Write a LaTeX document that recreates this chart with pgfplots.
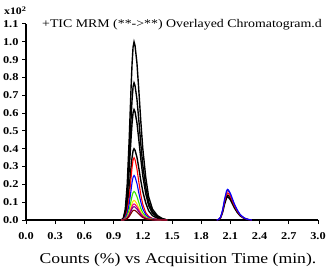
\documentclass[border=0pt]{standalone}
\usepackage{fontspec}
\setmainfont{Liberation Serif}[FakeStretch=1.18]
\usepackage{pgfplots}
\usepackage{pgfplotstable}
\pgfplotsset{compat=1.18}

\pgfplotstableread{
x     a     b      c      d      e      f      g      h      i      j       k
0.98  0     0      0      0      0      0      0      0      0      0       0
1.00  0.010 0.0077 0.0062 0.004  0.0035 0.0025 0.0016 0.0011 0.0009 0.00075 0.00055
1.02  0.060 0.0462 0.0372 0.024  0.0175 0.0125 0.008  0.0055 0.0045 0.00375 0.00275
1.04  0.200 0.154  0.124  0.080  0.0525 0.0375 0.024  0.0165 0.0135 0.01125 0.00825
1.06  0.450 0.3465 0.279  0.180  0.1225 0.0875 0.056  0.0385 0.0315 0.02625 0.01925
1.08  0.750 0.5775 0.465  0.300  0.238  0.170  0.1088 0.0748 0.0612 0.051   0.0374
1.09  0.880 0.6776 0.5456 0.352  0.2975 0.2125 0.136  0.0935 0.0765 0.06375 0.04675
1.10  0.970 0.7469 0.6014 0.388  0.336  0.240  0.1536 0.1056 0.0864 0.072   0.0528
1.11  1.000 0.770  0.620  0.400  0.350  0.250  0.160  0.110  0.090  0.075   0.055
1.12  0.980 0.7546 0.6076 0.392  0.3395 0.2425 0.1552 0.1067 0.0873 0.07275 0.05335
1.14  0.880 0.6776 0.5456 0.352  0.287  0.205  0.1312 0.0902 0.0738 0.0615  0.0451
1.16  0.720 0.5544 0.4464 0.288  0.210  0.150  0.096  0.066  0.054  0.045   0.033
1.18  0.550 0.4235 0.341  0.220  0.140  0.100  0.064  0.044  0.036  0.030   0.022
1.20  0.400 0.308  0.248  0.160  0.0875 0.0625 0.040  0.0275 0.0225 0.01875 0.01375
1.23  0.240 0.1848 0.1488 0.096  0.042  0.030  0.0192 0.0132 0.0108 0.009   0.0066
1.26  0.130 0.1001 0.0806 0.052  0.021  0.015  0.0096 0.0066 0.0054 0.0045  0.0033
1.30  0.060 0.0462 0.0372 0.024  0.0088 0.0063 0.004  0.0028 0.0023 0.0019  0.0014
1.35  0.025 0.0193 0.0155 0.010  0.0035 0.0025 0.0016 0.0011 0.0009 0.00075 0.00055
1.40  0.008 0.0062 0.005  0.0032 0.0014 0.001  0.0006 0.0004 0.0004 0.0003  0.0002
1.45  0     0      0      0      0      0      0      0      0      0       0
}\peakone

\pgfplotstableread{
x     a      b      c      d      e
1.96  0      0      0      0      0
1.98  0.0034 0.0033 0.003  0.0028 0.0026
2.00  0.0172 0.0165 0.0152 0.014  0.013
2.02  0.0568 0.0545 0.0502 0.0462 0.0429
2.04  0.117  0.1122 0.1034 0.0952 0.0884
2.06  0.1634 0.1568 0.1444 0.133  0.1235
2.07  0.172  0.165  0.152  0.140  0.130
2.08  0.1686 0.1617 0.149  0.1372 0.1274
2.10  0.1496 0.1436 0.1322 0.1218 0.1131
2.12  0.1204 0.1155 0.1064 0.098  0.091
2.14  0.0912 0.0875 0.0806 0.0742 0.0689
2.17  0.0568 0.0545 0.0502 0.0462 0.0429
2.20  0.031  0.0297 0.0274 0.0252 0.0234
2.24  0.012  0.0116 0.0106 0.0098 0.0091
2.28  0.0034 0.0033 0.003  0.0028 0.0026
2.32  0      0      0      0      0
}\peaktwo

\definecolor{brightgreen}{rgb}{0.2,0.9,0}
\definecolor{ylw}{rgb}{1,0.9,0}

\begin{document}
\begin{tikzpicture}
\begin{axis}[
  at={(26bp,49bp)}, anchor=south west,
  scale only axis, width=292bp, height=196bp,
  xmin=0, xmax=3.0, ymin=0, ymax=1.1,
  axis lines=left,
  axis line style={line width=1.3pt, -},
  tick align=outside,
  major tick length=4bp,
  tick style={line width=1pt, black},
  xtick={0,0.3,0.6,0.9,1.2,1.5,1.8,2.1,2.4,2.7,3.0},
  ytick={0,0.1,0.2,0.3,0.4,0.5,0.6,0.7,0.8,0.9,1.0,1.1},
  ticklabel style={font=\fontsize{10.5}{12}\selectfont\bfseries},
  xticklabel style={yshift=-5bp, /pgf/number format/.cd, fixed, fixed zerofill, precision=1, assume math mode=true},
  yticklabel style={/pgf/number format/.cd, fixed, fixed zerofill, precision=1, assume math mode=true},
  scaled y ticks=false,
  xlabel={Counts (\%) vs Acquisition Time (min).},
  xlabel style={font=\fontsize{15}{17}\selectfont, at={(axis description cs:0.5,0)}, anchor=base, yshift=-43bp, xshift=6bp},
  clip=false,
  no markers,
]
\addplot[black, line width=1.4pt] table[x=x, y=a] {\peakone};
\addplot[black, line width=1.4pt] table[x=x, y=b] {\peakone};
\addplot[black, line width=1.4pt] table[x=x, y=c] {\peakone};
\addplot[black, line width=1.4pt] table[x=x, y=d] {\peakone};
\addplot[red, line width=1.1pt] table[x=x, y=e] {\peakone};
\addplot[blue, line width=1.1pt] table[x=x, y=f] {\peakone};
\addplot[brightgreen, line width=1.1pt] table[x=x, y=g] {\peakone};
\addplot[ylw, line width=1.1pt] table[x=x, y=h] {\peakone};
\addplot[magenta, line width=1.1pt] table[x=x, y=i] {\peakone};
\addplot[violet, line width=1.1pt] table[x=x, y=j] {\peakone};
\addplot[red!50!black, line width=1.1pt] table[x=x, y=k] {\peakone};
\addplot[black, line width=1.4pt] table[x=x, y=e] {\peaktwo};
\addplot[black, line width=1.1pt] table[x=x, y=d] {\peaktwo};
\addplot[red, line width=1.0pt] table[x=x, y=c] {\peaktwo};
\addplot[violet, line width=1.0pt] table[x=x, y=b] {\peaktwo};
\addplot[blue, line width=1.1pt] table[x=x, y=a] {\peaktwo};
\end{axis}
\node[anchor=base west, font=\fontsize{11.8}{14}\selectfont, inner sep=0pt] at (42bp,241bp) {+TIC MRM (**->**) Overlayed Chromatogram.d};
\node[anchor=base west, font=\fontsize{10}{12}\selectfont\bfseries, inner sep=0pt] at (4bp,254bp) {x10\textsuperscript{2}};
\pgfresetboundingbox
\path (0,0) rectangle (330bp,269bp);
\end{tikzpicture}
\end{document}
